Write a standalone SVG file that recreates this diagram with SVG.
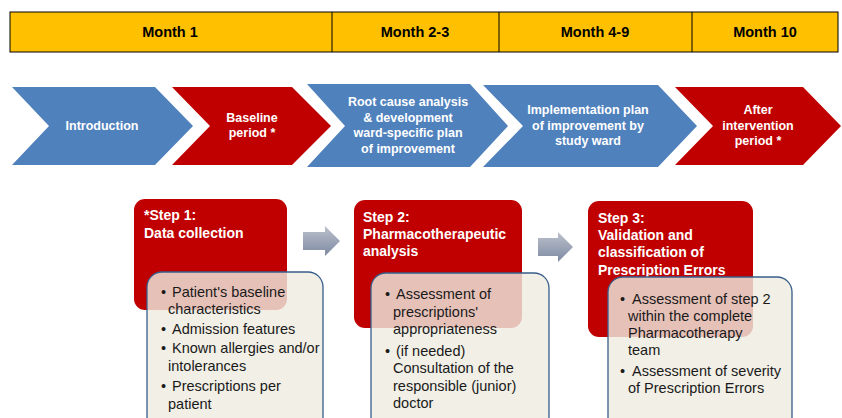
<svg xmlns="http://www.w3.org/2000/svg" width="842" height="418" viewBox="0 0 842 418">
<style>
.mt{font-family:"Liberation Sans",Arial,sans-serif;font-weight:bold;font-size:14.5px;fill:#000;text-anchor:middle}
.ct{font-family:"Liberation Sans",Arial,sans-serif;font-weight:bold;font-size:12.5px;fill:#fff;text-anchor:middle}
.st{font-family:"Liberation Sans",Arial,sans-serif;font-weight:bold;font-size:14px;fill:#fff}
.bt{font-family:"Liberation Sans",Arial,sans-serif;font-size:14.5px;fill:#1a1a1a}
.blue{fill:#4F81BD}
.red{fill:#C00000}
.rbox{fill:#C00000}
.bbox{fill:#EEECE1;fill-opacity:0.82;stroke:#385D8A;stroke-width:1.3}
</style>
<defs>
<linearGradient id="ag" x1="0" y1="0" x2="0" y2="1">
<stop offset="0" stop-color="#BCC1CC"/>
<stop offset="1" stop-color="#7E8AA2"/>
</linearGradient>
</defs>
<g id="timeline">
<rect x="10" y="12" width="828" height="40" fill="#FFC000" stroke="#000" stroke-width="1"/>
<line x1="332" y1="12" x2="332" y2="52" stroke="#000" stroke-width="1"/>
<line x1="499" y1="12" x2="499" y2="52" stroke="#000" stroke-width="1"/>
<line x1="692" y1="12" x2="692" y2="52" stroke="#000" stroke-width="1"/>
<text class="mt" x="170" y="37">Month 1</text>
<text class="mt" x="415" y="37">Month 2-3</text>
<text class="mt" x="595" y="37">Month 4-9</text>
<text class="mt" x="765" y="37">Month 10</text>
</g>
<g id="chev-intro">
<path class="blue" d="M12,87 L155,87 L193,126 L155,165 L12,165 L49,126 Z"/>
<text class="ct" x="102" y="130">Introduction</text>
</g>
<g id="chev-baseline">
<path class="red" d="M172,87 L292,87 L331,126 L292,165 L172,165 L210,126 Z"/>
<text class="ct" x="252" y="122">Baseline</text>
<text class="ct" x="252" y="137">period *</text>
</g>
<g id="chev-root">
<path class="blue" d="M307,84 L470,84 L508,126 L470,167 L307,167 L345,126 Z"/>
<text class="ct" x="408" y="106">Root cause analysis</text>
<text class="ct" x="408" y="122">&amp; development</text>
<text class="ct" x="408" y="137">ward-specific plan</text>
<text class="ct" x="408" y="153">of improvement</text>
</g>
<g id="chev-impl">
<path class="blue" d="M483,85 L658,85 L697,126 L658,167 L483,167 L523,126 Z"/>
<text class="ct" x="588" y="114">Implementation plan</text>
<text class="ct" x="588" y="130">of improvement by</text>
<text class="ct" x="588" y="145">study ward</text>
</g>
<g id="chev-after">
<path class="red" d="M675,87 L803,87 L841,126 L803,165 L675,165 L713,126 Z"/>
<text class="ct" x="758" y="114">After</text>
<text class="ct" x="758" y="130">intervention</text>
<text class="ct" x="758" y="145">period *</text>
</g>
<g id="connectors">
<path fill="url(#ag)" d="M303,232 L325,232 L325,226 L340,241 L325,256 L325,250 L303,250 Z"/>
<path fill="url(#ag)" d="M538,238 L558,238 L558,232 L573,247 L558,262 L558,256 L538,256 Z"/>
</g>
<g id="step1">
<rect class="rbox" x="134" y="199" width="153" height="111" rx="11"/>
<text class="st" x="144" y="220">*Step 1:</text>
<text class="st" x="144" y="238">Data collection</text>
<rect class="bbox" x="147" y="272" width="176" height="160" rx="15"/>
<text class="bt" x="161" y="297">•</text><text class="bt" x="172" y="297">Patient's baseline</text>
<text class="bt" x="168" y="314">characteristics</text>
<text class="bt" x="161" y="334">•</text><text class="bt" x="172" y="334">Admission features</text>
<text class="bt" x="161" y="353">•</text><text class="bt" x="172" y="353">Known allergies and/or</text>
<text class="bt" x="168" y="371">intolerances</text>
<text class="bt" x="161" y="391">•</text><text class="bt" x="172" y="391">Prescriptions per</text>
<text class="bt" x="168" y="409">patient</text>
</g>
<g id="step2">
<rect class="rbox" x="354" y="200" width="168" height="128" rx="11"/>
<text class="st" x="363" y="222">Step 2:</text>
<text class="st" x="363" y="239">Pharmacotherapeutic</text>
<text class="st" x="363" y="256">analysis</text>
<rect class="bbox" x="371" y="273" width="178" height="160" rx="15"/>
<text class="bt" x="385" y="299">•</text><text class="bt" x="396" y="299">Assessment of</text>
<text class="bt" x="393" y="317">prescriptions'</text>
<text class="bt" x="393" y="334">appropriateness</text>
<text class="bt" x="385" y="356">•</text><text class="bt" x="396" y="356">(if needed)</text>
<text class="bt" x="393" y="373">Consultation of the</text>
<text class="bt" x="393" y="391">responsible (junior)</text>
<text class="bt" x="393" y="408">doctor</text>
</g>
<g id="step3">
<rect class="rbox" x="588" y="201" width="165" height="136" rx="11"/>
<text class="st" x="598" y="223">Step 3:</text>
<text class="st" x="598" y="240">Validation and</text>
<text class="st" x="598" y="257">classification of</text>
<text class="st" x="598" y="275">Prescription Errors</text>
<rect class="bbox" x="608" y="277" width="184" height="160" rx="15"/>
<text class="bt" x="620" y="304">•</text><text class="bt" x="632" y="304">Assessment of step 2</text>
<text class="bt" x="628" y="321">within the complete</text>
<text class="bt" x="628" y="338">Pharmacotherapy</text>
<text class="bt" x="628" y="355">team</text>
<text class="bt" x="620" y="376">•</text><text class="bt" x="632" y="376">Assessment of severity</text>
<text class="bt" x="628" y="393">of Prescription Errors</text>
</g>
</svg>
